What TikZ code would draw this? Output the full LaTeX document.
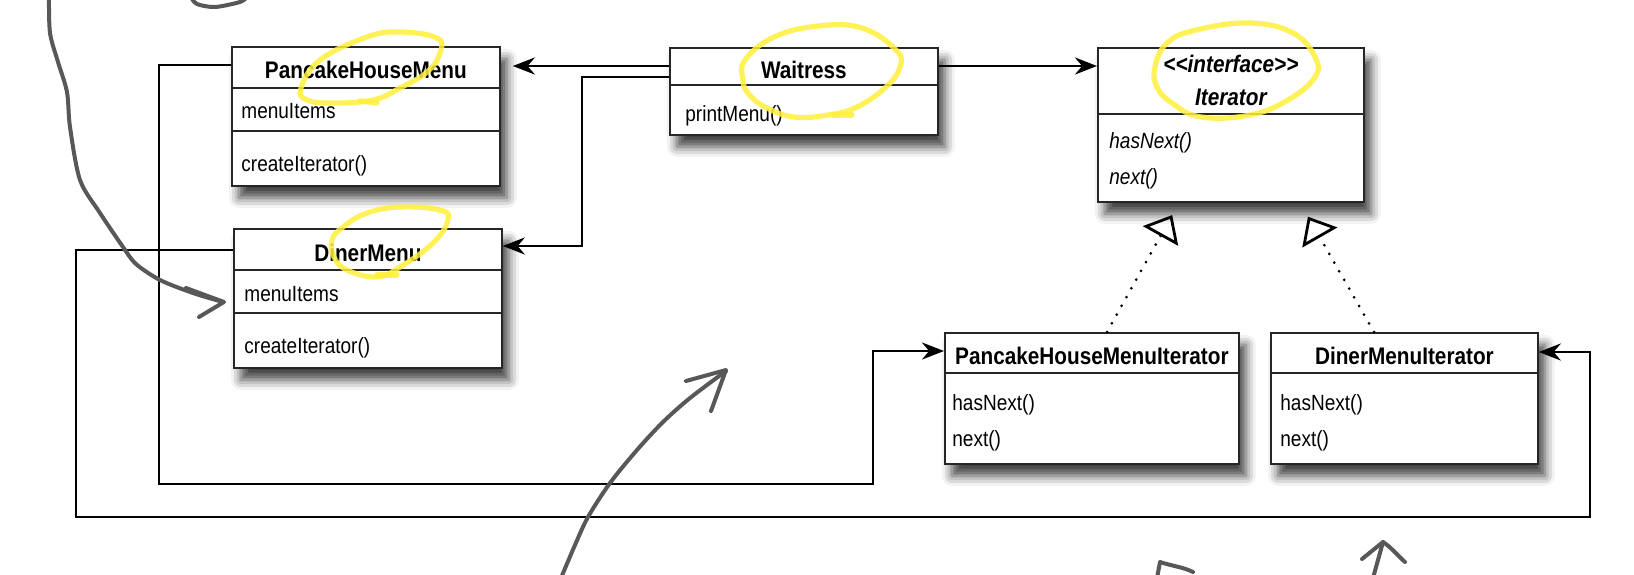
\documentclass[tikz,border=0pt]{standalone}
\usepackage{fontspec}
\setmainfont{Liberation Sans}[FakeStretch=0.865]
\usepackage{tikz}
\usetikzlibrary{arrows.meta,shadows.blur}
\definecolor{marker}{RGB}{255,240,60}
\definecolor{pencil}{RGB}{88,88,88}

\begin{document}
\begin{tikzpicture}[
  x=0.5pt, y=-0.5pt,
  classbox/.style={draw=black!85, line width=0.9pt, fill=white, anchor=north west, inner sep=0pt,
    blur shadow={shadow xshift=3.5pt, shadow yshift=-6pt, shadow blur radius=5pt, shadow opacity=75}},
  divider/.style={draw=black!85, line width=0.9pt},
  title/.style={anchor=base, inner sep=0pt, font=\fontsize{12}{14}\selectfont\bfseries},
  member/.style={anchor=base west, inner sep=0pt, font=\fontsize{11}{13}\selectfont},
  arrow/.style={-{Stealth[length=11pt, width=8.5pt]}, line width=1.45pt},
  realize/.style={-{Triangle[open, length=12pt, width=20pt, line width=1.4pt]}, line width=1.5pt, line cap=round, dash pattern=on 0pt off 5pt},
  hilite/.style={draw=marker, line width=2.6pt, line cap=round, line join=round, opacity=0.85},
  sketch/.style={draw=pencil, line width=2pt, line cap=round, line join=round},
]
\useasboundingbox (0,0) rectangle (1634,574);

% Classes
\node[classbox, minimum width=134pt, minimum height=69.5pt] (phm) at (231,46) {};
\node[classbox, minimum width=134pt, minimum height=69.5pt] (dm) at (233,228) {};
\node[classbox, minimum width=134pt, minimum height=43.5pt] (wt) at (669,47) {};
\node[classbox, minimum width=133pt, minimum height=77pt] (itr) at (1097,47) {};
\node[classbox, minimum width=147pt, minimum height=65.5pt] (phmi) at (944,332) {};
\node[classbox, minimum width=133.5pt, minimum height=65.5pt] (dmi) at (1270,332) {};

% Compartments
\draw[divider] (phm.west |- 0,88) -- (phm.east |- 0,88);
\draw[divider] (phm.west |- 0,131) -- (phm.east |- 0,131);
\draw[divider] (dm.west |- 0,270) -- (dm.east |- 0,270);
\draw[divider] (dm.west |- 0,313) -- (dm.east |- 0,313);
\draw[divider] (wt.west |- 0,85) -- (wt.east |- 0,85);
\draw[divider] (itr.west |- 0,114) -- (itr.east |- 0,114);
\draw[divider] (phmi.west |- 0,373) -- (phmi.east |- 0,373);
\draw[divider] (dmi.west |- 0,373) -- (dmi.east |- 0,373);

% Names and members
\node[title] (phmName) at (phm.north |- 0,78) {PancakeHouseMenu};
\node[member] (phmAttr) at (241,118) {menuItems};
\node[member] (phmOp) at (241,171) {createIterator()};
\node[title] (dmName) at (dm.north |- 0,261) {DinerMenu};
\node[member] (dmAttr) at (244,301) {menuItems};
\node[member] (dmOp) at (244,353) {createIterator()};
\node[title] (wtName) at (wt.north |- 0,78) {Waitress};
\node[member] (wtOp) at (685,121) {printMenu()};
\node[title, font=\fontsize{12}{14}\selectfont\bfseries\itshape] (itrStereo) at (itr.north |- 0,72.5) {<\kern0pt<interface>\kern0pt>};
\node[title, font=\fontsize{12}{14}\selectfont\bfseries\itshape] (itrName) at (itr.north |- 0,105) {Iterator};
\node[member, font=\fontsize{11}{13}\selectfont\itshape] (itrOp1) at (1109,148) {hasNext()};
\node[member, font=\fontsize{11}{13}\selectfont\itshape] (itrOp2) at (1109,184) {next()};
\node[title] (phmiName) at (phmi.north |- 0,364) {PancakeHouseMenuIterator};
\node[member] (phmiOp1) at (952,410) {hasNext()};
\node[member] (phmiOp2) at (952,446) {next()};
\node[title] (dmiName) at (dmi.north |- 0,364) {DinerMenuIterator};
\node[member] (dmiOp1) at (1280,410) {hasNext()};
\node[member] (dmiOp2) at (1280,446) {next()};

% Associations
\draw[arrow, shorten >=6pt] (wt.west |- 0,66) -- (phm.east |- 0,66);
\draw[arrow] (wt.west |- 0,77) -| (582,246) -- (dm.east |- 0,246);
\draw[arrow] (wt.east |- 0,66) -- (itr.west |- 0,66);
\draw[arrow] (phm.west |- 0,65) -| (159,484) -| (873,351) -- (phmi.west |- 0,351);
\draw[arrow] (dm.west |- 0,250) -| (76,517) -| (1590,352) -- (dmi.east |- 0,352);

% Realizations
\draw[realize, shorten >=7pt] (phmi.north -| 1107,0) -- (itr.south -| 1179,0);
\draw[realize, shorten >=8pt] (dmi.north -| 1374,0) -- (itr.south -| 1300,0);

% Highlighter rings
\draw[hilite] plot[smooth cycle, tension=0.7] coordinates {(307,100) (301,88) (320,60) (367,37) (400,32) (437,38) (440,53) (427,72) (400,88) (373,100) (333,103)};
\draw[hilite] (360,101) -- (377,103);
\draw[hilite] plot[smooth cycle, tension=0.7] coordinates {(332,240) (334,257) (347,270) (377,277) (400,267) (433,243) (448,220) (440,210) (400,207) (367,213) (343,227)};
\draw[hilite] (377,275) -- (397,275);
\draw[hilite] plot[smooth cycle, tension=0.7] coordinates {(743,80) (745,60) (774,37) (818,26) (862,28) (896,50) (900,67) (886,87) (857,107) (828,115) (794,117) (765,107) (748,93)};
\draw[hilite] (833,115) -- (852,115);
\draw[hilite] plot[smooth cycle, tension=0.7] coordinates {(1155,67) (1167,43) (1196,30) (1250,23) (1293,33) (1315,57) (1315,77) (1288,100) (1250,115) (1201,117) (1172,103) (1157,87)};

% Pencil notes
\draw[sketch] plot[smooth] coordinates {(49,-3) (50,33) (58,62) (67,92) (70,127) (80,180) (100,213) (123,247) (136,264) (160,280) (193,293) (223,302)};
\draw[sketch] (186,288) -- (224,302) -- (199,317);
\draw[sketch] plot[smooth] coordinates {(191,-3) (197,4) (215,7) (240,2) (247,-3)};
\draw[sketch] plot[smooth] coordinates {(561,578) (575,545) (588,517) (610,483) (637,450) (663,422) (690,398) (726,371)};
\draw[sketch] (686,381) -- (726,370) -- (711,411);
\draw[sketch] (1157,578) -- (1160,562) .. controls (1172,566) and (1183,567) .. (1193,572);
\draw[sketch] (1373,578) -- (1383,542);
\draw[sketch] (1362,559) -- (1383,542) .. controls (1392,548) and (1398,556) .. (1405,562);
\end{tikzpicture}
\end{document}
